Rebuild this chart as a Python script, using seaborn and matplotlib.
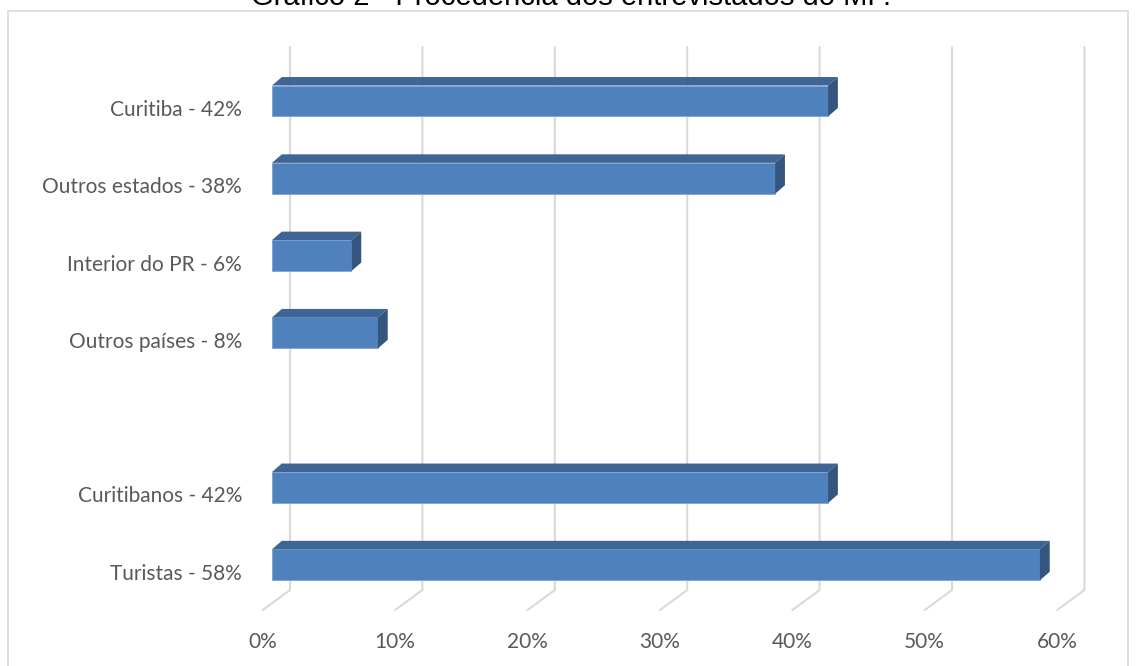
import numpy as np
import pandas as pd
import matplotlib
matplotlib.use("Agg")
import matplotlib.pyplot as plt
from matplotlib.patches import Polygon
from matplotlib.lines import Line2D
import seaborn as sns

# Survey data: origin of interviewees (percent)
origins = ["Curitiba", "Outros estados", "Interior do PR", "Outros países"]
origin_pct = [42, 38, 6, 8]
groups = ["Curitibanos", "Turistas"]
group_pct = [42, 58]
x_ticks = [0, 10, 20, 30, 40, 50, 60]
x_tick_labels = ["0%", "10%", "20%", "30%", "40%", "50%", "60%"]
title = "Gráfico 2 - Procedência dos entrevistados do MP."

labels = [f"{n} - {v}%" for n, v in zip(origins + groups, origin_pct + group_pct)]
values = origin_pct + group_pct
df = pd.DataFrame({"origem": labels, "pct": values})
order = labels[:4] + [""] + labels[4:]

sns.set_style("white")
plt.rcParams["font.family"] = ["Lato", "DejaVu Sans"]

W, H = 1137, 666
PX = 13.24          # pixels per percentage point
X0 = 272            # pixel of the bars' zero
XMIN = -1.5         # left data limit
left_px = X0 + XMIN * PX
fig = plt.figure(figsize=(W / 100, H / 100), dpi=100)
ax = fig.add_axes([left_px / W, (H - 610) / H, (1128 - left_px) / W, (610 - 11) / H])
ax.set_facecolor("none")

front = "#4F81BD"
top_c = "#3E6593"
side_c = "#33557E"
bar_w = 0.40

sns.barplot(data=df, x="pct", y="origem", order=order, orient="h",
            color=front, saturation=1, width=bar_w, ax=ax, zorder=3,
            edgecolor="#7FA3D0", linewidth=0.6)

# pseudo-3D depth of the bars
dx, dy = 0.74, 0.11
val_of = dict(zip(labels, values))
for i, name in enumerate(order):
    if name not in val_of:
        continue
    v = val_of[name]
    y0, y1 = i - bar_w / 2, i + bar_w / 2
    ax.add_patch(Polygon([(0, y0), (v, y0), (v + dx, y0 - dy), (dx, y0 - dy)],
                         closed=True, facecolor=top_c, edgecolor="none", zorder=3))
    ax.add_patch(Polygon([(v, y0), (v + dx, y0 - dy), (v + dx, y1 - dy), (v, y1)],
                         closed=True, facecolor=side_c, edgecolor="none", zorder=3))

# back-wall gridlines with floor lines
for t in x_ticks:
    ax.plot([t + 1.36, t + 1.36, t - 0.70], [-0.699, 6.326, 6.585],
            color="#D9D9D9", lw=1.5, zorder=1, clip_on=False,
            solid_joinstyle="miter")

ax.set_yticks(np.arange(len(order)) + 0.09, order)
ax.set_xticks([t - 0.70 for t in x_ticks], x_tick_labels)
ax.set_xlim(XMIN, (1128 - X0) / PX)
ax.set_ylim((610 - 101) / 77.3, (11 - 101) / 77.3)
ax.tick_params(axis="y", length=0, pad=(left_px - 242) * 0.72,
               labelsize=15, labelcolor="#595959")
ax.tick_params(axis="x", length=0, pad=16, labelsize=15, labelcolor="#595959")
ax.set_xlabel("")
ax.set_ylabel("")
for s in ax.spines.values():
    s.set_visible(False)

# chart border
bc = "#D9D9D9"
for xs, ys in [([8, 8], [H + 5, 11]), ([8, 1128], [11, 11]), ([1128, 1128], [11, H + 5])]:
    fig.add_artist(Line2D([x / W for x in xs], [1 - y / H for y in ys],
                          color=bc, lw=1.2, transform=fig.transFigure))

fig.text(571 / W, 1 - 5 / H, title, ha="center", va="baseline",
         fontsize=21, family=["Liberation Sans", "DejaVu Sans"], color="#000000")

fig.savefig("out.png", dpi=100)
